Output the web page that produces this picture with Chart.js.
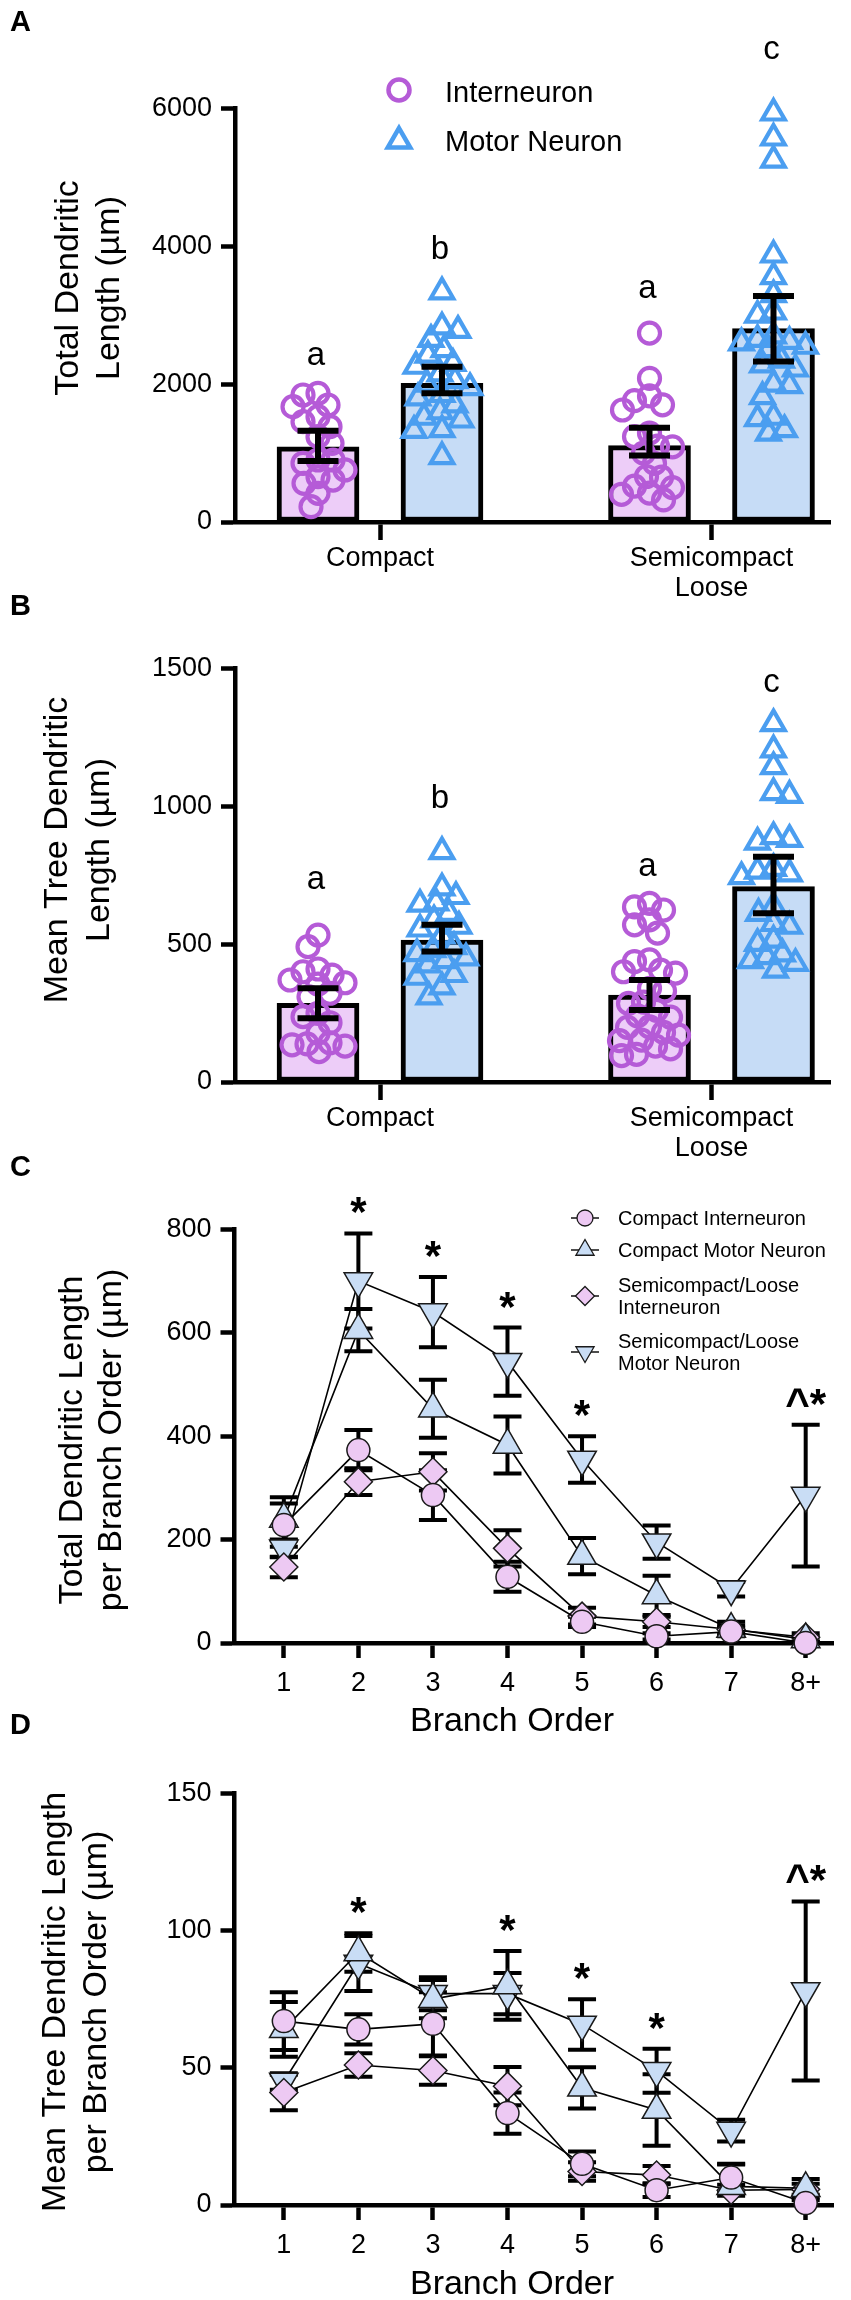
<!DOCTYPE html>
<html>
<head>
<meta charset="utf-8">
<script src="https://cdn.jsdelivr.net/npm/chart.js@4.4.1/dist/chart.umd.min.js"></script>
<style>
  html, body { margin: 0; padding: 0; background: #fff; }
  #wrap { position: relative; width: 851px; height: 2300px; overflow: hidden; }
  #wrap canvas { position: absolute; left: 0; }
</style>
</head>
<body>
<div id="wrap">
  <canvas id="cA" width="851" height="620" style="top:0px"></canvas>
  <canvas id="cB" width="851" height="600" style="top:580px"></canvas>
  <canvas id="cC" width="851" height="590" style="top:1150px"></canvas>
  <canvas id="cD" width="851" height="600" style="top:1700px"></canvas>
</div>
<script>
// ======================= DATA =======================
const GROUP_LABELS = ['Compact', ['Semicompact', 'Loose']];
const CELL_TYPES = ['Interneuron', 'Motor Neuron'];

// Panel A : Total dendritic length (µm)
const A_INTER_MEAN = [1090, 1108];
const A_INTER_LOW  = [885, 964];
const A_INTER_HIGH = [1325, 1367];
const A_MOTOR_MEAN = [2012, 2806];
const A_MOTOR_LOW  = [1867, 2330];
const A_MOTOR_HIGH = [2254, 3280];
const A_COMPACT_INTER = [1867, 1843, 1698, 1673, 1528, 1456, 1383, 1238, 1142, 900, 900, 852, 755, 658, 609, 561, 416, 222];
const A_COMPACT_MOTOR = [3340, 2830, 2780, 2650, 2500, 2420, 2300, 2260, 2150, 2050, 2000, 1950, 1850, 1800, 1700, 1600, 1520, 1480, 1340, 1330, 950];
const A_SEMI_INTER = [2740, 2085, 1830, 1760, 1700, 1625, 1290, 1240, 1100, 1090, 1000, 850, 660, 650, 520, 500, 420, 400, 320];
const A_SEMI_MOTOR = [5935, 5572, 5252, 3874, 3560, 3300, 3047, 3000, 2700, 2650, 2620, 2600, 2550, 2500, 2350, 2280, 2220, 2000, 1980, 1820, 1520, 1500, 1340, 1290];
const A_LETTERS = ['a', 'b', 'a', 'c'];
const A_Y_TICKS = [0, 2000, 4000, 6000];

// Panel B : Mean tree dendritic length (µm)
const B_INTER_MEAN = [285, 315];
const B_INTER_LOW  = [231, 261];
const B_INTER_HIGH = [340, 370];
const B_MOTOR_MEAN = [515, 709];
const B_MOTOR_LOW  = [473, 612];
const B_MOTOR_HIGH = [570, 817];
const B_COMPACT_INTER = [533, 491, 410, 400, 388, 370, 360, 355, 322, 309, 249, 237, 215, 177, 142, 138, 135, 130, 110];
const B_COMPACT_MOTOR = [836, 704, 673, 650, 645, 612, 588, 565, 555, 530, 491, 480, 466, 450, 440, 425, 390, 380, 345, 309];
const B_SEMI_INTER = [648, 635, 624, 588, 570, 540, 443, 437, 406, 400, 395, 340, 330, 290, 285, 260, 240, 235, 200, 198, 180, 170, 152, 150, 130, 120, 100, 96];
const B_SEMI_MOTOR = [1300, 1205, 1144, 1050, 1040, 890, 880, 870, 775, 765, 755, 745, 636, 612, 575, 565, 515, 503, 465, 455, 440, 430, 406];
const B_LETTERS = ['a', 'b', 'a', 'c'];
const B_Y_TICKS = [0, 500, 1000, 1500];

// Panels C / D : per branch order
const BRANCH_ORDER = ['1', '2', '3', '4', '5', '6', '7', '8+'];
const SERIES_NAMES = ['Compact Interneuron', 'Compact Motor Neuron', ['Semicompact/Loose', 'Interneuron'], ['Semicompact/Loose', 'Motor Neuron']];

const C_COMPACT_INTER     = [228, 373, 286, 128, 41, 13, 22, 0];
const C_COMPACT_INTER_SEM = [42, 39, 48, 29, 10, 6, 8, 3];
const C_COMPACT_MOTOR     = [240, 605, 453, 383, 168, 92, 27, 7];
const C_COMPACT_MOTOR_SEM = [42, 41, 56, 55, 35, 38, 14, 5];
const C_SEMI_INTER        = [147, 312, 331, 183, 52, 41, 26, 11];
const C_SEMI_INTER_SEM    = [20, 26, 36, 35, 16, 10, 8, 8];
const C_SEMI_MOTOR        = [183, 700, 640, 544, 355, 195, 104, 285];
const C_SEMI_MOTOR_SEM    = [17, 92, 68, 66, 45, 32, 14, 137];
const C_MARKS = ['', '*', '*', '*', '*', '', '', '^*'];
const C_Y_TICKS = [0, 200, 400, 600, 800];

const D_COMPACT_INTER     = [67, 64, 66, 33.5, 15, 5.4, 10, 0.7];
const D_COMPACT_INTER_SEM = [10.5, 5.5, 11.5, 7.5, 4.5, 2.5, 5, 1];
const D_COMPACT_MOTOR     = [64, 92, 75, 80, 42.7, 34.6, 6.8, 6.1];
const D_COMPACT_MOTOR_SEM = [10, 7, 7, 12.5, 7.5, 13, 8, 3.4];
const D_SEMI_INTER        = [41, 51, 49, 43.3, 12.2, 10.9, 5.4, 5.7];
const D_SEMI_INTER_SEM    = [6.5, 4.3, 5.2, 7, 3.4, 3.3, 2, 2];
const D_SEMI_MOTOR        = [45, 88, 77, 77, 65.8, 48.9, 27.1, 78];
const D_SEMI_MOTOR_SEM    = [3, 10, 6, 7.5, 9.2, 8, 4, 32.6];
const D_MARKS = ['', '*', '', '*', '*', '*', '', '^*'];
const D_Y_TICKS = [0, 50, 100, 150];

// ======================= STYLE / LAYOUT =======================
const FONT = "'Liberation Sans', Arial, Helvetica, sans-serif";
Chart.defaults.font.family = FONT;
Chart.defaults.color = '#000';
Chart.defaults.animation = false;
Chart.defaults.plugins.legend.display = false;
Chart.defaults.plugins.tooltip.enabled = false;

const PURPLE = '#B55BD7';
const BLUE = '#4B9EF0';
const BAR_PINK = '#EDCDF8';
const BAR_BLUE = '#C6DCF6';
const M_PINK = '#EDC9F3';
const M_BLUE = '#C9DDF5';
const EDGE = '#1a1a1a';

function txt(ctx, s, x, y, size, o) {
  o = o || {};
  ctx.save();
  ctx.font = (o.bold ? 'bold ' : '') + size + 'px ' + FONT;
  ctx.fillStyle = '#000';
  ctx.textAlign = o.align || 'left';
  ctx.textBaseline = o.baseline || 'alphabetic';
  ctx.fillText(s, x, y);
  ctx.restore();
}
function vtxt(ctx, s, xBase, cy, size) {
  ctx.save();
  ctx.translate(xBase, cy);
  ctx.rotate(-Math.PI / 2);
  ctx.font = size + 'px ' + FONT;
  ctx.fillStyle = '#000';
  ctx.textAlign = 'center';
  ctx.textBaseline = 'alphabetic';
  ctx.fillText(s, 0, 0);
  ctx.restore();
}
function marker(ctx, style, x, y, r, rot, fill, stroke, lw) {
  ctx.save();
  ctx.beginPath();
  if (style === 'circle') {
    ctx.arc(x, y, r, 0, Math.PI * 2);
  } else if (style === 'triangle') {
    let a = rot * Math.PI / 180;
    for (let k = 0; k < 3; k++) {
      const px = x + Math.sin(a) * r, py = y - Math.cos(a) * r;
      if (k === 0) ctx.moveTo(px, py); else ctx.lineTo(px, py);
      a += Math.PI * 2 / 3;
    }
  } else if (style === 'rectRot') {
    ctx.moveTo(x - r, y); ctx.lineTo(x, y - r); ctx.lineTo(x + r, y); ctx.lineTo(x, y + r);
  }
  ctx.closePath();
  if (fill) { ctx.fillStyle = fill; ctx.fill(); }
  ctx.lineWidth = lw; ctx.strokeStyle = stroke; ctx.lineJoin = 'miter'; ctx.stroke();
  ctx.restore();
}
const plainNumber = v => String(v);

// deterministic bee-swarm placement (pixel-space collision avoidance)
function swarm(values, center, pxPerX, pxPerY, minDist, maxOff) {
  const placed = [], out = [];
  const sorted = values.slice().sort((a, b) => b - a);
  sorted.forEach((v, i) => {
    const py = v * pxPerY;
    let chosen = null, bestOff = 0, bestD = -1;
    const sign = i % 2 === 0 ? 1 : -1;
    for (let s = 0; s <= maxOff && chosen === null; s += 1) {
      const cands = s === 0 ? [0] : [sign * s, -sign * s];
      for (const off of cands) {
        let dmin = Infinity;
        for (const p of placed) {
          const d = Math.hypot(p.px - off, p.py - py);
          if (d < dmin) dmin = d;
        }
        if (dmin >= minDist) { chosen = off; break; }
        if (dmin > bestD) { bestD = dmin; bestOff = off; }
      }
    }
    if (chosen === null) chosen = bestOff;
    placed.push({ px: chosen, py });
    out.push({ x: center + chosen / pxPerX, y: v });
  });
  return out;
}

// ----------------------- bar + dot panels (A, B) -----------------------
const GROUP_POS = [1, 2];
const BAR_OFF = 0.187;
const AB_LEFT = 235, AB_RIGHT = 830, AB_UNIT = 331.5, AB_CAT1 = 380;
const AB_XMIN = 1 - (AB_CAT1 - AB_LEFT) / AB_UNIT;
const AB_XMAX = 2 + (AB_RIGHT - (AB_CAT1 + AB_UNIT)) / AB_UNIT;

function makeBarPanel(spec) {
  const H = spec.height;
  const plotH = spec.areaBottom - spec.areaTop;
  const pxPerY = plotH / spec.yMax;
  const groups = [
    { x: GROUP_POS[0] - BAR_OFF, vals: spec.pts[0], kind: 0 },
    { x: GROUP_POS[0] + BAR_OFF, vals: spec.pts[1], kind: 1 },
    { x: GROUP_POS[1] - BAR_OFF, vals: spec.pts[2], kind: 0 },
    { x: GROUP_POS[1] + BAR_OFF, vals: spec.pts[3], kind: 1 },
  ];
  const datasets = [
    { type: 'bar', data: spec.interMean.map((v, i) => ({ x: GROUP_POS[i] - BAR_OFF, y: v })),
      backgroundColor: BAR_PINK, borderColor: '#000', borderWidth: 5, borderSkipped: false,
      barThickness: 82, grouped: false, order: 3 },
    { type: 'bar', data: spec.motorMean.map((v, i) => ({ x: GROUP_POS[i] + BAR_OFF, y: v })),
      backgroundColor: BAR_BLUE, borderColor: '#000', borderWidth: 5, borderSkipped: false,
      barThickness: 82, grouped: false, order: 3 },
  ];
  groups.forEach(g => {
    const circle = g.kind === 0;
    datasets.push({
      type: 'scatter',
      data: swarm(g.vals, g.x, AB_UNIT, pxPerY, circle ? 15 : 16, 32),
      pointStyle: circle ? 'circle' : 'triangle',
      pointRadius: circle ? 10.5 : 13,
      pointBorderWidth: 4.2,
      pointBorderColor: circle ? PURPLE : BLUE,
      pointBackgroundColor: 'rgba(0,0,0,0)',
      showLine: false, clip: false, order: 1,
    });
  });

  const errors = [
    { x: GROUP_POS[0] - BAR_OFF, lo: spec.interLow[0], hi: spec.interHigh[0] },
    { x: GROUP_POS[0] + BAR_OFF, lo: spec.motorLow[0], hi: spec.motorHigh[0] },
    { x: GROUP_POS[1] - BAR_OFF, lo: spec.interLow[1], hi: spec.interHigh[1] },
    { x: GROUP_POS[1] + BAR_OFF, lo: spec.motorLow[1], hi: spec.motorHigh[1] },
  ];

  const deco = {
    id: 'deco' + spec.letter,
    afterDatasetsDraw(chart) {
      const ctx = chart.ctx, xs = chart.scales.x, ys = chart.scales.y;
      ctx.save();
      ctx.strokeStyle = '#000';
      ctx.lineWidth = 6;
      ctx.lineCap = 'butt';
      errors.forEach(e => {
        const x = xs.getPixelForValue(e.x);
        const y1 = ys.getPixelForValue(e.hi), y0 = ys.getPixelForValue(e.lo);
        ctx.beginPath();
        ctx.moveTo(x, y1); ctx.lineTo(x, y0);
        ctx.moveTo(x - 20.5, y1); ctx.lineTo(x + 20.5, y1);
        ctx.moveTo(x - 20.5, y0); ctx.lineTo(x + 20.5, y0);
        ctx.stroke();
      });
      ctx.restore();
    },
    afterDraw(chart) {
      const ctx = chart.ctx, xs = chart.scales.x, ys = chart.scales.y;
      const T = spec.top;
      txt(ctx, spec.letter, 10, spec.letterBase - T, 29, { bold: true });
      spec.title.forEach((line, i) => vtxt(ctx, line, spec.titleBase[i], spec.titleCY - T, 34));
      groups.forEach((g, i) => {
        const top = ys.getPixelForValue(Math.max.apply(null, g.vals));
        const cy = top - spec.letterGaps[i];
        txt(ctx, spec.letters[i], xs.getPixelForValue(g.x) - 2, cy + 9, 33, { align: 'center' });
      });
      if (spec.legend) {
        marker(ctx, 'circle', 399, 90 - T, 10.5, 0, null, PURPLE, 4.5);
        marker(ctx, 'triangle', 399, 141 - T, 13, 0, null, BLUE, 4.5);
        txt(ctx, CELL_TYPES[0], 445, 102 - T, 29);
        txt(ctx, CELL_TYPES[1], 445, 151 - T, 29);
      }
    }
  };

  return new Chart(document.getElementById(spec.canvas), {
    type: 'bar',
    data: { datasets },
    options: {
      responsive: false,
      layout: { padding: { top: spec.areaTop - spec.top, right: 851 - AB_RIGHT, left: 0, bottom: 0 } },
      scales: {
        x: {
          type: 'linear', min: AB_XMIN, max: AB_XMAX, offset: false,
          afterBuildTicks: ax => { ax.ticks = GROUP_POS.map(v => ({ value: v })); },
          afterFit: s => { s.height = spec.top + H - spec.areaBottom; },
          ticks: { callback: (v, i) => GROUP_LABELS[i], font: { size: 27, lineHeight: 1.1 }, color: '#000',
                   padding: 4, maxRotation: 0, autoSkip: false },
          grid: { drawOnChartArea: false, drawTicks: true, tickLength: 18, tickWidth: 4.5, tickColor: '#000', offset: false },
          border: { display: true, color: '#000', width: 4.5 },
        },
        y: {
          type: 'linear', min: 0, max: spec.yMax,
          afterBuildTicks: ax => { ax.ticks = spec.yTicks.map(v => ({ value: v })); },
          afterFit: s => { s.width = AB_LEFT; },
          ticks: { callback: plainNumber, font: { size: 27 }, color: '#000', padding: 9 },
          grid: { drawOnChartArea: false, drawTicks: true, tickLength: 14, tickWidth: 4.5, tickColor: '#000' },
          border: { display: true, color: '#000', width: 4.5 },
        },
      },
    },
    plugins: [deco],
  });
}

makeBarPanel({
  canvas: 'cA', letter: 'A', top: 0, height: 620, areaTop: 108.5, areaBottom: 522,
  yMax: 6000, yTicks: A_Y_TICKS,
  interMean: A_INTER_MEAN, interLow: A_INTER_LOW, interHigh: A_INTER_HIGH,
  motorMean: A_MOTOR_MEAN, motorLow: A_MOTOR_LOW, motorHigh: A_MOTOR_HIGH,
  pts: [A_COMPACT_INTER, A_COMPACT_MOTOR, A_SEMI_INTER, A_SEMI_MOTOR],
  letters: A_LETTERS, letterGaps: [37, 42, 44, 63],
  title: ['Total Dendritic', 'Length (µm)'], titleBase: [78, 119], titleCY: 288,
  letterBase: 31, legend: true,
});

makeBarPanel({
  canvas: 'cB', letter: 'B', top: 580, height: 600, areaTop: 668.5, areaBottom: 1082,
  yMax: 1500, yTicks: B_Y_TICKS,
  interMean: B_INTER_MEAN, interLow: B_INTER_LOW, interHigh: B_INTER_HIGH,
  motorMean: B_MOTOR_MEAN, motorLow: B_MOTOR_LOW, motorHigh: B_MOTOR_HIGH,
  pts: [B_COMPACT_INTER, B_COMPACT_MOTOR, B_SEMI_INTER, B_SEMI_MOTOR],
  letters: B_LETTERS, letterGaps: [55, 53, 36, 41],
  title: ['Mean Tree Dendritic', 'Length (µm)'], titleBase: [67, 109], titleCY: 850,
  letterBase: 615, legend: false,
});

// ----------------------- branch-order panels (C, D) -----------------------
const LN_LEFT = 234.5, LN_RIGHT = 835, LN_UNIT = 74.8, LN_FIRST = 284;
const LN_XMIN = 1 - (LN_FIRST - LN_LEFT) / LN_UNIT;
const LN_XMAX = 8 + (LN_RIGHT - (LN_FIRST + 7 * LN_UNIT)) / LN_UNIT;
const SERIES_STYLE = [
  { style: 'circle', r: 11.5, rot: 0, fill: M_PINK, lr: 8 },
  { style: 'triangle', r: 16.5, rot: 0, fill: M_BLUE, lr: 10.5 },
  { style: 'rectRot', r: 14, rot: 0, fill: M_PINK, lr: 9.5 },
  { style: 'triangle', r: 16.5, rot: 180, fill: M_BLUE, lr: 10.5 },
];
const BRANCH_POS = BRANCH_ORDER.map((_, i) => i + 1);

function makeLinePanel(spec) {
  const datasets = spec.means.map((m, k) => {
    const st = SERIES_STYLE[k];
    return {
      data: m.map((v, i) => ({ x: BRANCH_POS[i], y: v })),
      showLine: true, borderColor: '#000', borderWidth: 1.6,
      pointStyle: st.style, pointRadius: st.r, pointRotation: st.rot,
      pointBackgroundColor: st.fill, pointBorderColor: EDGE, pointBorderWidth: 1.5,
      clip: false,
    };
  });

  const deco = {
    id: 'deco' + spec.letter,
    beforeDatasetsDraw(chart) {
      const ctx = chart.ctx, xs = chart.scales.x, ys = chart.scales.y;
      ctx.save();
      ctx.strokeStyle = '#000';
      ctx.lineWidth = 4;
      spec.means.forEach((m, k) => {
        m.forEach((v, i) => {
          const e = spec.sems[k][i];
          const x = xs.getPixelForValue(BRANCH_POS[i]);
          const y1 = ys.getPixelForValue(v + e), y0 = ys.getPixelForValue(Math.max(0, v - e));
          ctx.beginPath();
          ctx.moveTo(x, y1); ctx.lineTo(x, y0);
          ctx.moveTo(x - 14, y1); ctx.lineTo(x + 14, y1);
          ctx.moveTo(x - 14, y0); ctx.lineTo(x + 14, y0);
          ctx.stroke();
        });
      });
      ctx.restore();
    },
    afterDraw(chart) {
      const ctx = chart.ctx, xs = chart.scales.x, ys = chart.scales.y;
      const T = spec.top;
      txt(ctx, spec.letter, 10, spec.letterBase - T, 29, { bold: true });
      spec.title.forEach((line, i) => vtxt(ctx, line, spec.titleBase[i], spec.titleCY - T, 34));
      txt(ctx, 'Branch Order', 512, spec.xTitleBase - T, 34, { align: 'center' });
      spec.marks.forEach((mk, i) => {
        if (!mk) return;
        let top = Infinity;
        spec.means.forEach((m, k) => { top = Math.min(top, ys.getPixelForValue(m[i] + spec.sems[k][i])); });
        const cy = top - 29;
        txt(ctx, mk, xs.getPixelForValue(BRANCH_POS[i]), cy + 22, 42, { bold: true, align: 'center' });
      });
      if (spec.legend) {
        const rows = [1218, 1250, 1296, 1352];
        SERIES_NAMES.forEach((name, k) => {
          const st = SERIES_STYLE[k];
          const y = rows[k] - T;
          ctx.save();
          ctx.strokeStyle = '#000'; ctx.lineWidth = 1.4;
          ctx.beginPath(); ctx.moveTo(571, y); ctx.lineTo(599, y); ctx.stroke();
          ctx.restore();
          marker(ctx, st.style, 585, y, st.lr, st.rot, st.fill, EDGE, 1.3);
          const lines = Array.isArray(name) ? name : [name];
          lines.forEach((ln, j) => {
            const ly = y + (j - (lines.length - 1) / 2) * 22;
            txt(ctx, ln, 618, ly + 7, 20);
          });
        });
      }
    }
  };

  return new Chart(document.getElementById(spec.canvas), {
    type: 'scatter',
    data: { datasets },
    options: {
      responsive: false,
      layout: { padding: { top: spec.areaTop - spec.top, right: 851 - LN_RIGHT, left: 0, bottom: 0 } },
      scales: {
        x: {
          type: 'linear', min: LN_XMIN, max: LN_XMAX,
          afterBuildTicks: ax => { ax.ticks = BRANCH_POS.map(v => ({ value: v })); },
          afterFit: s => { s.height = spec.top + spec.height - spec.areaBottom; },
          ticks: { callback: (v, i) => BRANCH_ORDER[i], font: { size: 27, lineHeight: 1.1 }, color: '#000',
                   padding: 11, maxRotation: 0, autoSkip: false },
          grid: { drawOnChartArea: false, drawTicks: true, tickLength: 15, tickWidth: 4.5, tickColor: '#000' },
          border: { display: true, color: '#000', width: 4.5 },
        },
        y: {
          type: 'linear', min: 0, max: spec.yMax,
          afterBuildTicks: ax => { ax.ticks = spec.yTicks.map(v => ({ value: v })); },
          afterFit: s => { s.width = LN_LEFT; },
          ticks: { callback: plainNumber, font: { size: 27 }, color: '#000', padding: 9 },
          grid: { drawOnChartArea: false, drawTicks: true, tickLength: 14, tickWidth: 4.5, tickColor: '#000' },
          border: { display: true, color: '#000', width: 4.5 },
        },
      },
    },
    plugins: [deco],
  });
}

makeLinePanel({
  canvas: 'cC', letter: 'C', top: 1150, height: 590, areaTop: 1229.3, areaBottom: 1643,
  yMax: 800, yTicks: C_Y_TICKS,
  means: [C_COMPACT_INTER, C_COMPACT_MOTOR, C_SEMI_INTER, C_SEMI_MOTOR],
  sems: [C_COMPACT_INTER_SEM, C_COMPACT_MOTOR_SEM, C_SEMI_INTER_SEM, C_SEMI_MOTOR_SEM],
  marks: C_MARKS,
  title: ['Total Dendritic Length', 'per Branch Order (µm)'], titleBase: [82, 121], titleCY: 1440,
  xTitleBase: 1731, letterBase: 1176, legend: true,
});

makeLinePanel({
  canvas: 'cD', letter: 'D', top: 1700, height: 600, areaTop: 1793.3, areaBottom: 2205,
  yMax: 150, yTicks: D_Y_TICKS,
  means: [D_COMPACT_INTER, D_COMPACT_MOTOR, D_SEMI_INTER, D_SEMI_MOTOR],
  sems: [D_COMPACT_INTER_SEM, D_COMPACT_MOTOR_SEM, D_SEMI_INTER_SEM, D_SEMI_MOTOR_SEM],
  marks: D_MARKS,
  title: ['Mean Tree Dendritic Length', 'per Branch Order (µm)'], titleBase: [65, 106], titleCY: 2002,
  xTitleBase: 2294, letterBase: 1734, legend: false,
});
</script>
</body>
</html>
